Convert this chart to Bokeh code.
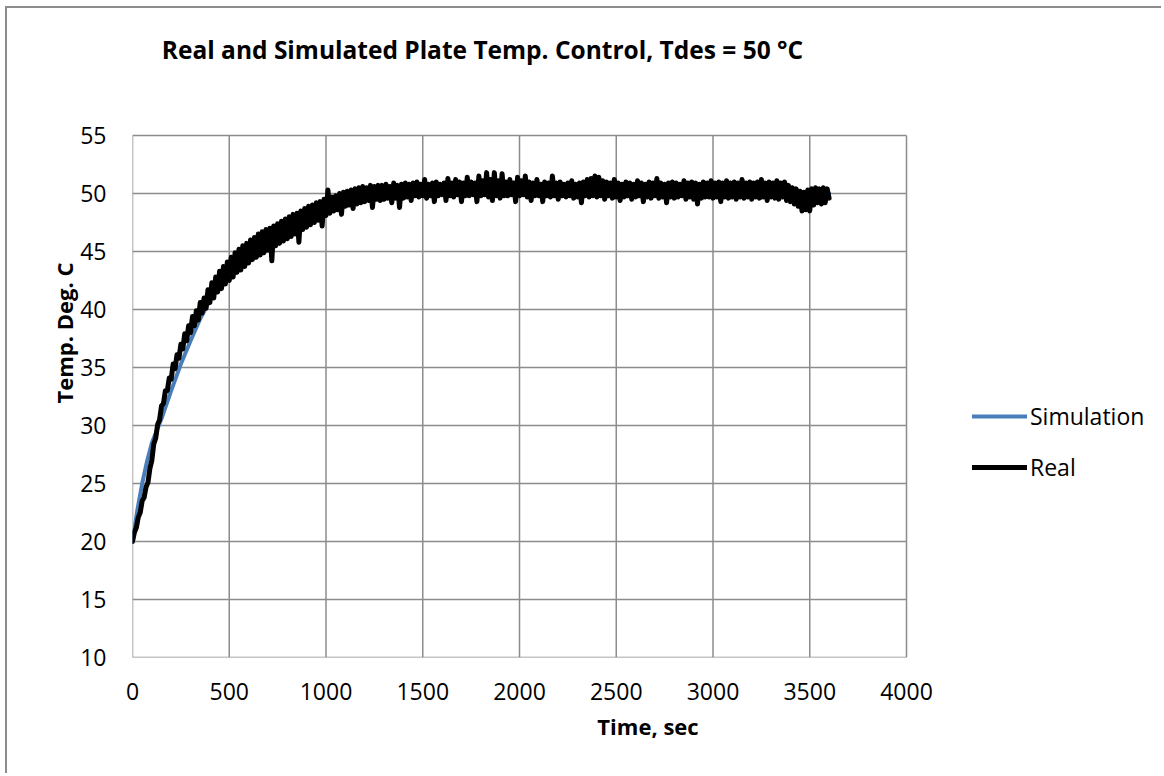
from bokeh.plotting import figure
from bokeh.models import FixedTicker, Legend, LegendItem, Label, Range1d
from bokeh.embed import file_html
from bokeh.resources import INLINE

TITLE = "Real and Simulated Plate Temp. Control, Tdes = 50 °C"
X_LABEL = "Time, sec"
Y_LABEL = "Temp. Deg. C"
x_ticks = [0, 500, 1000, 1500, 2000, 2500, 3000, 3500, 4000]
y_ticks = [10, 15, 20, 25, 30, 35, 40, 45, 50, 55]
X_MIN, X_MAX = 0, 4000
Y_MIN, Y_MAX = 10, 55

sim_t = [0, 25, 50, 75, 100, 150, 200, 250, 300, 350, 400, 450, 500, 550, 600, 650,
         700, 750, 800, 850, 900, 950, 1000, 1100, 1200, 1300, 1400, 1500, 1600,
         1800, 2000, 2500, 3000, 3600]
sim_T = [20.0, 22.7, 25.0, 26.9, 28.5, 30.6, 33.0, 35.3, 37.3, 39.2, 40.8, 42.1, 43.2,
         44.1, 44.9, 45.6, 46.2, 46.7, 47.2, 47.6, 48.0, 48.4, 48.7, 49.2, 49.5, 49.7,
         49.9, 50.0, 50.0, 50.0, 50.0, 50.0, 50.0, 50.0]

real_t = list(range(0, 3601, 10))
real_T = [
    20.0, 20.8, 21.2, 22.1, 22.5, 23.5, 23.8, 24.7, 25.1, 26.3,
    27.0, 28.4, 28.9, 30.1, 30.5, 31.7, 31.9, 33.0, 33.0, 34.1,
    34.0, 35.3, 34.9, 36.1, 35.8, 37.0, 36.6, 37.9, 37.3, 38.6,
    38.0, 39.4, 38.6, 39.9, 39.1, 40.6, 39.7, 41.0, 40.1, 41.7,
    40.6, 42.3, 41.0, 42.8, 41.5, 43.3, 41.8, 43.7, 42.2, 44.1,
    42.5, 44.5, 42.8, 44.9, 43.2, 45.2, 43.4, 45.5, 43.7, 45.7,
    44.0, 46.0, 44.3, 46.2, 44.5, 46.5, 44.7, 46.7, 44.9, 46.9,
    45.1, 47.0, 44.2, 47.2, 45.5, 47.4, 45.7, 47.6, 45.9, 47.8,
    46.1, 48.0, 46.3, 48.2, 46.5, 48.3, 45.8, 48.5, 46.9, 48.7,
    47.1, 48.9, 47.3, 49.0, 47.5, 49.2, 47.7, 49.3, 47.2, 49.5,
    48.1, 50.3, 48.3, 49.7, 48.5, 49.8, 48.6, 50.0, 48.2, 50.1,
    48.9, 50.2, 49.0, 50.3, 48.7, 50.4, 49.1, 50.5, 49.2, 50.6,
    49.3, 50.5, 49.4, 50.7, 48.8, 50.6, 49.5, 50.7, 49.4, 50.7,
    49.5, 50.8, 49.6, 50.6, 49.2, 50.9, 49.6, 50.7, 48.8, 50.8,
    49.6, 50.9, 49.7, 50.8, 49.4, 50.9, 49.8, 51.0, 49.7, 50.8,
    49.8, 51.2, 49.6, 50.8, 49.8, 50.9, 49.3, 51.0, 49.8, 50.8,
    49.9, 50.9, 49.4, 51.3, 49.8, 50.9, 49.7, 51.2, 49.9, 51.0,
    49.3, 50.9, 49.8, 51.4, 49.8, 51.0, 49.9, 50.9, 49.3, 51.5,
    49.8, 51.1, 49.9, 51.8, 49.7, 51.2, 49.4, 51.8, 49.8, 51.1,
    49.6, 51.7, 49.8, 51.0, 49.8, 51.2, 49.9, 50.9, 49.3, 51.4,
    49.8, 51.1, 49.9, 51.5, 49.7, 51.0, 49.4, 50.9, 49.8, 51.2,
    49.8, 50.8, 49.3, 51.0, 49.8, 50.9, 49.7, 51.5, 49.8, 50.9,
    49.5, 51.0, 49.8, 50.8, 49.7, 50.9, 49.8, 51.1, 49.6, 50.8,
    49.7, 50.9, 49.2, 51.0, 49.8, 51.2, 49.7, 51.3, 49.8, 51.5,
    49.7, 51.4, 49.8, 51.1, 49.5, 51.0, 49.8, 50.9, 49.6, 51.2,
    49.7, 50.9, 49.4, 50.8, 49.7, 51.0, 49.8, 50.9, 49.5, 50.8,
    49.7, 51.1, 49.8, 50.9, 49.3, 50.8, 49.7, 51.0, 49.6, 50.9,
    49.8, 51.3, 49.6, 50.9, 49.7, 50.8, 49.2, 50.9, 49.7, 51.0,
    49.6, 50.9, 49.7, 50.8, 49.8, 51.1, 49.5, 50.9, 49.7, 51.0,
    49.5, 50.9, 49.1, 50.8, 49.6, 51.0, 49.7, 50.9, 49.7, 51.1,
    49.6, 50.9, 49.7, 51.0, 49.3, 50.9, 49.7, 51.1, 49.6, 50.9,
    49.7, 51.0, 49.5, 50.9, 49.7, 51.2, 49.6, 50.9, 49.7, 51.0,
    49.5, 50.9, 49.7, 51.0, 49.6, 51.2, 49.7, 50.9, 49.4, 51.0,
    49.7, 50.9, 49.6, 51.1, 49.5, 50.9, 49.7, 51.0, 49.4, 50.7,
    49.3, 50.5, 49.1, 50.4, 48.9, 50.2, 48.5, 50.1, 48.6, 50.3,
    48.5, 50.4, 49.0, 50.5, 49.2, 50.4, 49.1, 50.5, 49.2, 50.4,
    49.6,
]

FONT = "Open Sans"
GRID = "#8c8c8c"

# layout (pixels): canvas 1156x767, plot box 774x522 with its lower-left at (125, 649)
W, H = 1156, 767
LEFT, BOTTOM = 125, 118
BOX_W, BOX_H = 774, 522
frame_w, frame_h = W - LEFT, H - BOTTOM
x_end = X_MIN + (X_MAX - X_MIN) * frame_w / BOX_W
y_end = Y_MIN + (Y_MAX - Y_MIN) * frame_h / BOX_H

p = figure(width=W, height=H, output_backend="svg", toolbar_location=None,
           title=None,
           x_range=Range1d(X_MIN, x_end), y_range=Range1d(Y_MIN, y_end),
           min_border_left=LEFT, min_border_right=0, min_border_top=0,
           min_border_bottom=BOTTOM)
p.styles = {"margin-left": "5px", "margin-top": "6px",
            "border-left": "2px solid #8c8c8c", "border-top": "2px solid #8c8c8c"}
p.background_fill_color = "white"
p.border_fill_color = "white"
p.outline_line_color = None
p.xgrid.visible = False
p.ygrid.visible = False

# plot-area grid (drawn from the tick lists, limited to the plot box)
p.segment(x0=x_ticks, y0=[Y_MIN] * len(x_ticks), x1=x_ticks, y1=[Y_MAX] * len(x_ticks),
          line_color=GRID, line_width=1.5)
p.segment(x0=[X_MIN] * len(y_ticks), y0=y_ticks, x1=[X_MAX] * len(y_ticks), y1=y_ticks,
          line_color=GRID, line_width=1.5)

sim_r = p.line(sim_t, sim_T, line_color="#4a7ebb", line_width=4,
               line_cap="round", line_join="round")
real_r = p.line(real_t, real_T, line_color="black", line_width=5,
                line_cap="round", line_join="round")

for ax, ticks, bounds in ((p.xaxis[0], x_ticks, (X_MIN, X_MAX)),
                          (p.yaxis[0], y_ticks, (Y_MIN, Y_MAX))):
    ax.ticker = FixedTicker(ticks=ticks)
    ax.bounds = bounds
    ax.axis_line_color = None
    ax.major_tick_line_color = None
    ax.minor_tick_line_color = None
    ax.major_tick_out = 0
    ax.major_tick_in = 0
    ax.major_label_text_font = FONT
    ax.major_label_text_font_size = "23px"
    ax.major_label_text_color = "black"
    ax.axis_label_text_font = FONT
    ax.axis_label_text_font_style = "bold"
    ax.axis_label_text_font_size = "22px"
    ax.axis_label_text_color = "black"

p.xaxis.axis_label = X_LABEL
p.yaxis.axis_label = Y_LABEL
p.xaxis.major_label_standoff = 25
p.xaxis.axis_label_standoff = 8
p.yaxis.major_label_standoff = 26
p.yaxis.axis_label_standoff = -2

title = Label(x=350, y=608, x_units="screen", y_units="screen", text=TITLE,
              text_font=FONT, text_font_style="bold", text_font_size="24.5px",
              text_align="center", text_baseline="alphabetic", text_color="black")
p.add_layout(title)

legend = Legend(items=[LegendItem(label="Simulation", renderers=[sim_r]),
                       LegendItem(label="Real", renderers=[real_r])],
                location=(840, 174), glyph_width=55, glyph_height=20,
                label_height=20, label_standoff=3, spacing=19, padding=0, margin=0,
                border_line_alpha=0, background_fill_alpha=0,
                label_text_font=FONT, label_text_font_size="23px",
                label_text_color="black")
p.add_layout(legend)

open("out.html", "w").write(file_html(p, INLINE))
